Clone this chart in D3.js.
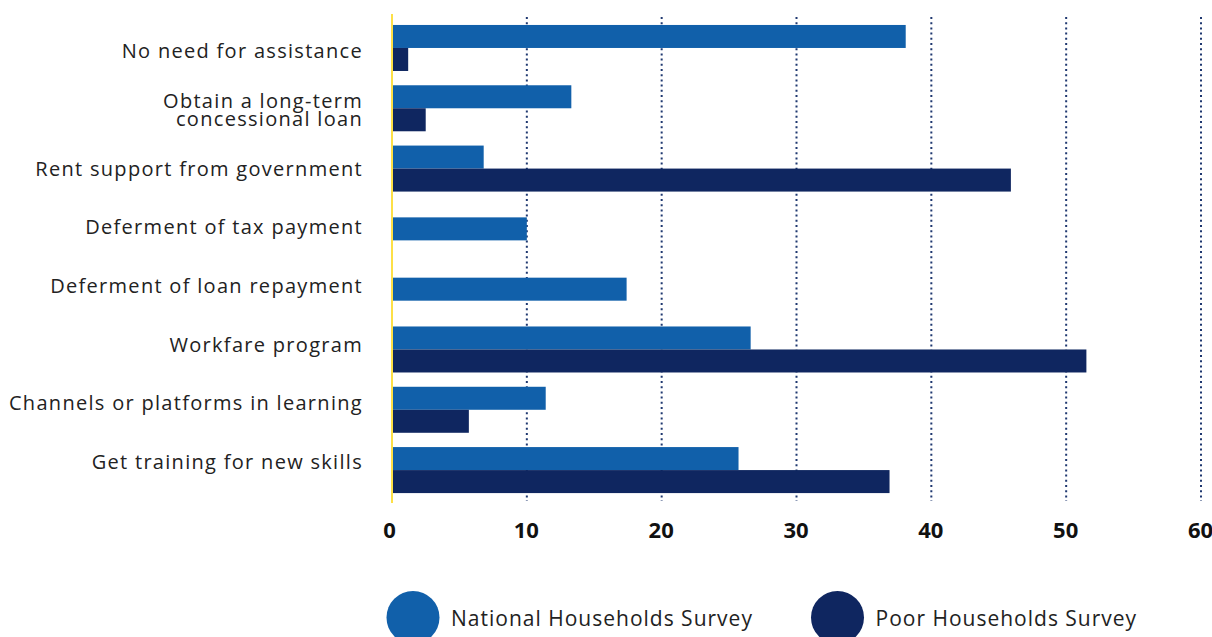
<!DOCTYPE html>
<html><head><meta charset="utf-8">
<script src="https://cdn.jsdelivr.net/npm/d3@7"></script>
<style>body{margin:0;background:#fff;}svg{display:block;font-family:"Open Sans",sans-serif;}</style>
</head><body><svg id="c" width="1212" height="637"></svg>
<script>
const categories = [
  ["No need for assistance"],
  ["Obtain a long-term","concessional loan"],
  ["Rent support from government"],
  ["Deferment of tax payment"],
  ["Deferment of loan repayment"],
  ["Workfare program"],
  ["Channels or platforms in learning"],
  ["Get training for new skills"]
];
const nationalValues = [38.1, 13.3, 6.8, 10.0, 17.4, 26.6, 11.4, 25.7];
const poorValues     = [1.2, 2.5, 45.9, null, null, 51.5, 5.7, 36.9];
const xTicks = [0,10,20,30,40,50,60];
const seriesNames = ["National Households Survey","Poor Households Survey"];
const colors = ["#1160AA","#0F2660"];

const svg = d3.select("#c");
const keys = categories.map(d=>d.join(" "));
const x = d3.scaleLinear().domain([0,60]).range([392,1201]);
const y = d3.scaleBand().domain(keys).range([17.85,500.2]).paddingInner(0.237).paddingOuter(0.118);
const sub = d3.scaleBand().domain([0,1]).range([0,y.bandwidth()]);
const yLabel = d3.scalePoint().domain(keys).range([51,462]);

// gridlines
svg.append("g").selectAll("line").data(xTicks.filter(t=>t>0)).join("line")
  .attr("x1",d=>x(d)).attr("x2",d=>x(d)).attr("y1",17).attr("y2",501)
  .attr("stroke","#1F3870").attr("stroke-width",2).attr("stroke-dasharray","2,3.2");

// bars (a bar whose partner is null is centred in its band)
const series = [nationalValues, poorValues];
series.forEach((vals,si)=>{
  const other = series[1-si];
  const rows = vals.map((v,i)=>({v,i})).filter(d=>d.v!==null);
  svg.append("g").selectAll("rect").data(rows).join("rect")
    .attr("x",x(0))
    .attr("y",d=> y(keys[d.i]) + (other[d.i]===null ? (y.bandwidth()-sub.bandwidth())/2 : sub(si)))
    .attr("width",d=>x(d.v)-x(0)).attr("height",sub.bandwidth())
    .attr("fill",colors[si]);
});

// yellow axis line
svg.append("line").attr("x1",x(0)).attr("x2",x(0)).attr("y1",14).attr("y2",503)
  .attr("stroke","#FDE047").attr("stroke-width",2);

// x axis tick labels
const xa = svg.append("g").attr("transform","translate(0,530)")
  .call(d3.axisBottom(x).tickValues(xTicks).tickSize(0).tickPadding(0));
xa.select(".domain").remove();
xa.selectAll("text").attr("font-size",22).attr("font-weight","bold").attr("fill","#111")
  .attr("font-family","'Open Sans',sans-serif").attr("dy","0.35em").attr("dx",(d)=>d===0?-3:-1).attr("y",0);

// category labels
const lab = svg.append("g").selectAll("text").data(categories).join("text")
  .attr("text-anchor","end").attr("font-size",20).attr("letter-spacing","1.3px").attr("fill","#222")
  .attr("x",363).attr("y",(d,i)=>yLabel(keys[i]));
lab.each(function(d){
  const t=d3.select(this);
  const n=d.length;
  d.forEach((line,j)=>{
    t.append("tspan").attr("x",363).attr("dy", j===0 ? ((0.36 - (n-1)*0.46)+"em") : "0.92em").text(line);
  });
});

// legend
const legX = [413, 837.5];
seriesNames.forEach((nm,i)=>{
  svg.append("circle").attr("cx",legX[i]).attr("cy",617.5).attr("r",26.5).attr("fill",colors[i]);
  svg.append("text").attr("x",legX[i]+38).attr("y",619).attr("dy","0.35em")
    .attr("font-size",21).attr("letter-spacing","1px").attr("fill","#222").text(nm);
});
</script></body></html>
